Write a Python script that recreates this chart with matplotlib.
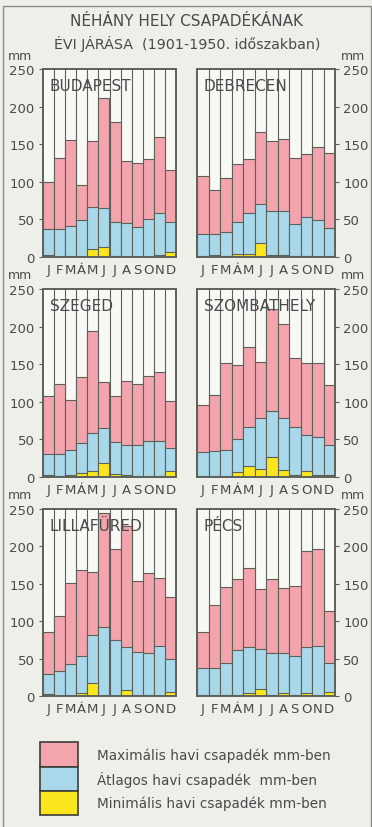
import numpy as np
import matplotlib
matplotlib.use('Agg')
import matplotlib.pyplot as plt
from matplotlib.patches import Rectangle

# Data (mm)
months = ['J', 'F', 'M', 'Á', 'M', 'J', 'J', 'A', 'S', 'O', 'N', 'D']
stations = ['BUDAPEST', 'DEBRECEN', 'SZEGED', 'SZOMBATHELY', 'LILLAFÜRED', 'PÉCS']

budapest_max = [100, 132, 155, 96, 154, 211, 180, 128, 125, 130, 160, 116]
budapest_avg = [37, 37, 41, 49, 67, 65, 46, 45, 40, 51, 58, 47]
budapest_min = [3, 0.5, 1, 0.5, 10, 13, 1, 0.5, 0.3, 0.5, 3, 6]

debrecen_max = [108, 89, 105, 124, 130, 166, 154, 157, 132, 137, 146, 138]
debrecen_avg = [31, 31, 33, 46, 59, 70, 61, 61, 44, 53, 49, 38]
debrecen_min = [1, 2, 1, 4, 4, 18, 2, 2, 1, 1, 0.5, 1]

szeged_max = [108, 124, 102, 133, 194, 126, 108, 128, 124, 134, 139, 101]
szeged_avg = [30, 31, 36, 45, 58, 65, 46, 43, 43, 48, 48, 38]
szeged_min = [2, 1, 2, 5, 8, 18, 4, 2, 1, 1, 1, 8]

szombathely_max = [96, 109, 151, 149, 173, 153, 224, 203, 158, 151, 151, 122]
szombathely_avg = [33, 35, 36, 51, 66, 78, 88, 78, 67, 56, 53, 43]
szombathely_min = [1, 1, 1, 7, 14, 10, 27, 9, 2, 8, 3, 2]

lillafured_max = [86, 107, 151, 169, 166, 244, 196, 227, 154, 165, 158, 132]
lillafured_avg = [30, 33, 43, 53, 82, 92, 75, 65, 59, 57, 67, 49]
lillafured_min = [3, 0.5, 0.5, 4, 17, 0.3, 0.5, 8, 1, 1, 0.3, 6]

pecs_max = [85, 121, 146, 156, 171, 143, 157, 144, 147, 194, 196, 113]
pecs_avg = [37, 38, 44, 62, 65, 63, 57, 57, 54, 65, 67, 44]
pecs_min = [1, 2, 2, 1, 4, 10, 2, 4, 1, 4, 0.5, 5]

series = [
    (budapest_max, budapest_avg, budapest_min),
    (debrecen_max, debrecen_avg, debrecen_min),
    (szeged_max, szeged_avg, szeged_min),
    (szombathely_max, szombathely_avg, szombathely_min),
    (lillafured_max, lillafured_avg, lillafured_min),
    (pecs_max, pecs_avg, pecs_min),
]

W, H = 372, 828
bg = '#eeefe9'
pink = '#f3a4ad'
blue = '#a9d8ea'
yellow = '#fbe61e'
edge = '#5c625a'
txt = '#4a4a4a'

fig = plt.figure(figsize=(W / 100, H / 100), dpi=100)
fig.patch.set_facecolor(bg)


def fx(x):
    return x / W


def fy(y):
    return 1 - y / H


# outer frame
fig.patches.append(Rectangle((fx(3), fy(840)), fx(368), 840 / H - 7 / H,
                             transform=fig.transFigure, fill=False,
                             edgecolor='#8a8a88', lw=1.0))

fig.text(fx(187), fy(22), 'NÉHÁNY HELY CSAPADÉKÁNAK', ha='center', va='center',
         fontsize=11, color=txt)
fig.text(fx(187), fy(44), 'ÉVI JÁRÁSA  (1901-1950. időszakban)', ha='center',
         va='center', fontsize=10.3, color=txt)

cols = [(43, 176), (197, 335)]
rows = [(70, 258), (290, 478), (510, 697)]
x = np.arange(12)

for i, (name, (mx, av, mn)) in enumerate(zip(stations, series)):
    r, c = divmod(i, 2)
    x0, x1 = cols[c]
    y0, y1 = rows[r]
    ax = fig.add_axes([fx(x0), fy(y1), fx(x1 - x0), (y1 - y0) / H])
    ax.set_facecolor('#f8f8f4')
    ax.bar(x, mx, width=1, color=pink, edgecolor=edge, lw=0.8)
    ax.bar(x, av, width=1, color=blue, edgecolor=edge, lw=0.8)
    ax.bar(x, mn, width=1, color=yellow, edgecolor=edge, lw=0.8)
    for b in np.arange(12) + 0.5:
        ax.axvline(b, color=edge, lw=0.8, zorder=0.5)
    ax.set_xlim(-0.5, 11.5)
    ax.set_ylim(0, 250)
    for s in ax.spines.values():
        s.set_color(edge)
        s.set_linewidth(1.4)
    ax.set_xticks(x)
    ax.set_xticklabels(months, fontsize=9.5, color=txt)
    ax.tick_params(axis='x', length=0, pad=4)
    ax.set_yticks([0, 50, 100, 150, 200, 250])
    ax.tick_params(axis='y', length=3, labelsize=9.5, labelcolor=txt, color=edge,
                   pad=3)
    if c == 1:
        ax.yaxis.tick_right()
    ax.text(0.05, 0.95, name, transform=ax.transAxes, ha='left', va='top',
            fontsize=11, color=txt)
    # mm labels
    if c == 0:
        fig.text(fx(20), fy(y0 - 14), 'mm', ha='center', va='center',
                 fontsize=9, color=txt)
    else:
        fig.text(fx(353), fy(y0 - 14), 'mm', ha='center', va='center',
                 fontsize=9, color=txt)

# legend
labels = ['Maximális havi csapadék mm-ben',
          'Átlagos havi csapadék  mm-ben',
          'Minimális havi csapadék mm-ben']
colors = [pink, blue, yellow]
box_top = [743, 768, 792]
box_h = [25, 24, 24]
for lab, col, t, h in zip(labels, colors, box_top, box_h):
    fig.patches.append(Rectangle((fx(40), fy(t + h)), fx(38), h / H,
                                 transform=fig.transFigure, facecolor=col,
                                 edgecolor='#3c3c3a', lw=1.2))
    fig.text(fx(97), fy(t + h / 2), lab, ha='left', va='center',
             fontsize=9.8, color=txt)

fig.savefig('out.png', dpi=100, facecolor=bg)
